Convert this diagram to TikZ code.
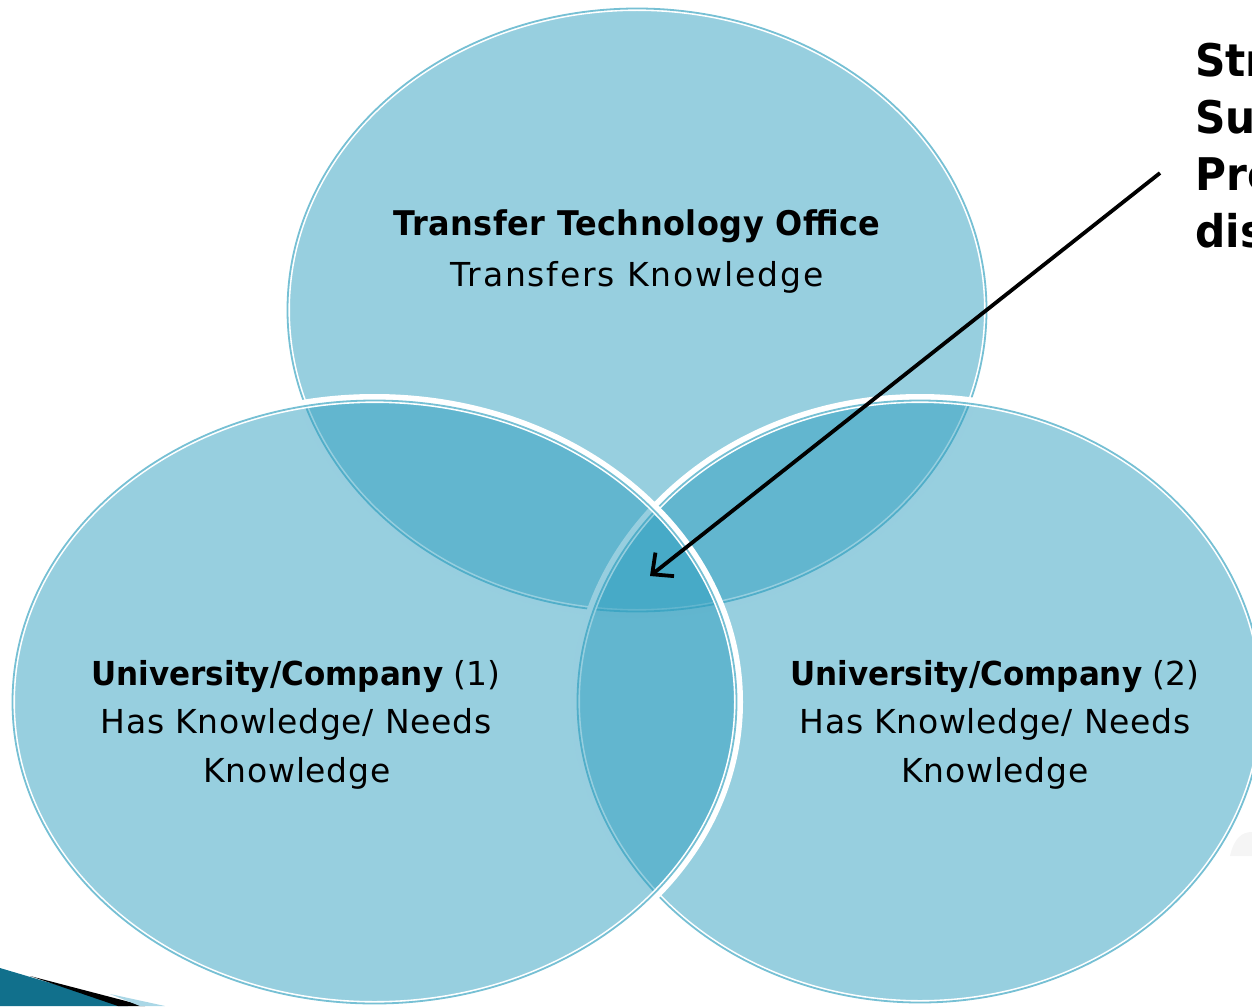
\documentclass[tikz,border=0pt]{standalone}
\usepackage{fontspec}
\setmainfont{DejaVu Sans}[BoldFeatures={FakeStretch=0.94}]
\usetikzlibrary{arrows.meta}
\definecolor{vennfill}{RGB}{43,157,190}
\definecolor{ringc}{RGB}{118,192,212}
\definecolor{decoteal}{RGB}{17,112,140}
\definecolor{decolight}{RGB}{170,215,230}
\tikzset{
  vfill/.style={fill=vennfill, fill opacity=0.49},
  vhalo/.style={draw=white, line width=9pt},
  vline/.style={draw=ringc, line width=1.8pt},
  lbl/.style={anchor=base, inner sep=0pt, font=\fontsize{33}{40}\selectfont\addfontfeature{LetterSpace=2}},
  lblplain/.style={anchor=base, inner sep=0pt, font=\fontsize{33}{40}\selectfont},
  side/.style={anchor=base west, inner sep=0pt, font=\fontsize{45}{56}\selectfont\bfseries},
  pointer/.style={line width=3.8pt, -{Straight Barb[length=16pt,width=30pt]}}
}
\begin{document}
\begin{tikzpicture}[x=1pt,y=-1pt]
\useasboundingbox (0,0) rectangle (1252,1006);
% slide decoration (bottom-left) and faint shadow (right)
\fill[decoteal] (0,968) -- (128,1006) -- (0,1006) -- cycle;
\fill[black] (30,976) -- (145,1006) -- (118,1006) -- cycle;
\fill[decolight] (110,994) -- (165,1006) -- (140,1006) -- cycle;
\fill[gray!8] (1230,856) .. controls (1234,838) and (1242,832) .. (1252,832) -- (1252,856) -- cycle;
% top ellipse
\fill[vfill] (637,310) ellipse [x radius=350, y radius=302];
\draw[vhalo] (637,310) ellipse [x radius=351.5, y radius=303.5];
\draw[vline] (637,310) ellipse [x radius=349.5, y radius=301.5];
% right ellipse
\fill[vfill] (920,701.5) ellipse [x radius=343, y radius=301.5];
\draw[vhalo] (920,701.5) ellipse [x radius=344.5, y radius=303];
\draw[vline] (920,701.5) ellipse [x radius=342.5, y radius=301];
% left ellipse
\fill[vfill] (374.5,702) ellipse [x radius=362.5, y radius=302];
\draw[vhalo] (374.5,702) ellipse [x radius=364, y radius=303.5];
\draw[vline] (374.5,702) ellipse [x radius=362, y radius=301.5];
% labels
\node[lblplain, font=\fontsize{34}{40}\selectfont\bfseries\addfontfeature{LetterSpace=1.5}] (tto) at (637,235) {Transfer Technology Office};
\node[lbl, font=\fontsize{33}{40}\selectfont\addfontfeature{LetterSpace=5.5}] (ttob) at (637,286) {Transfers Knowledge};
\node[lblplain] (u1a) at (296,685) {\textbf{University/Company} (1)};
\node[lbl] (u1b) at (296,733) {Has Knowledge/ Needs};
\node[lbl] (u1c) at (297,782) {Knowledge};
\node[lblplain] (u2a) at (995,685) {\textbf{University/Company} (2)};
\node[lbl] (u2b) at (995,733) {Has Knowledge/ Needs};
\node[lbl] (u2c) at (995,782) {Knowledge};
\node[side] (s1) at (1195,77) {Str};
\node[side] (s2) at (1195,134) {Su};
\node[side] (s3) at (1195,190) {Pro};
\node[side] (s4) at (1195,247) {dis};
% arrow
\coordinate (arrowstart) at (1160,173);
\coordinate (core) at (650,576);
\draw[pointer] (arrowstart) -- (core);
\end{tikzpicture}
\end{document}
